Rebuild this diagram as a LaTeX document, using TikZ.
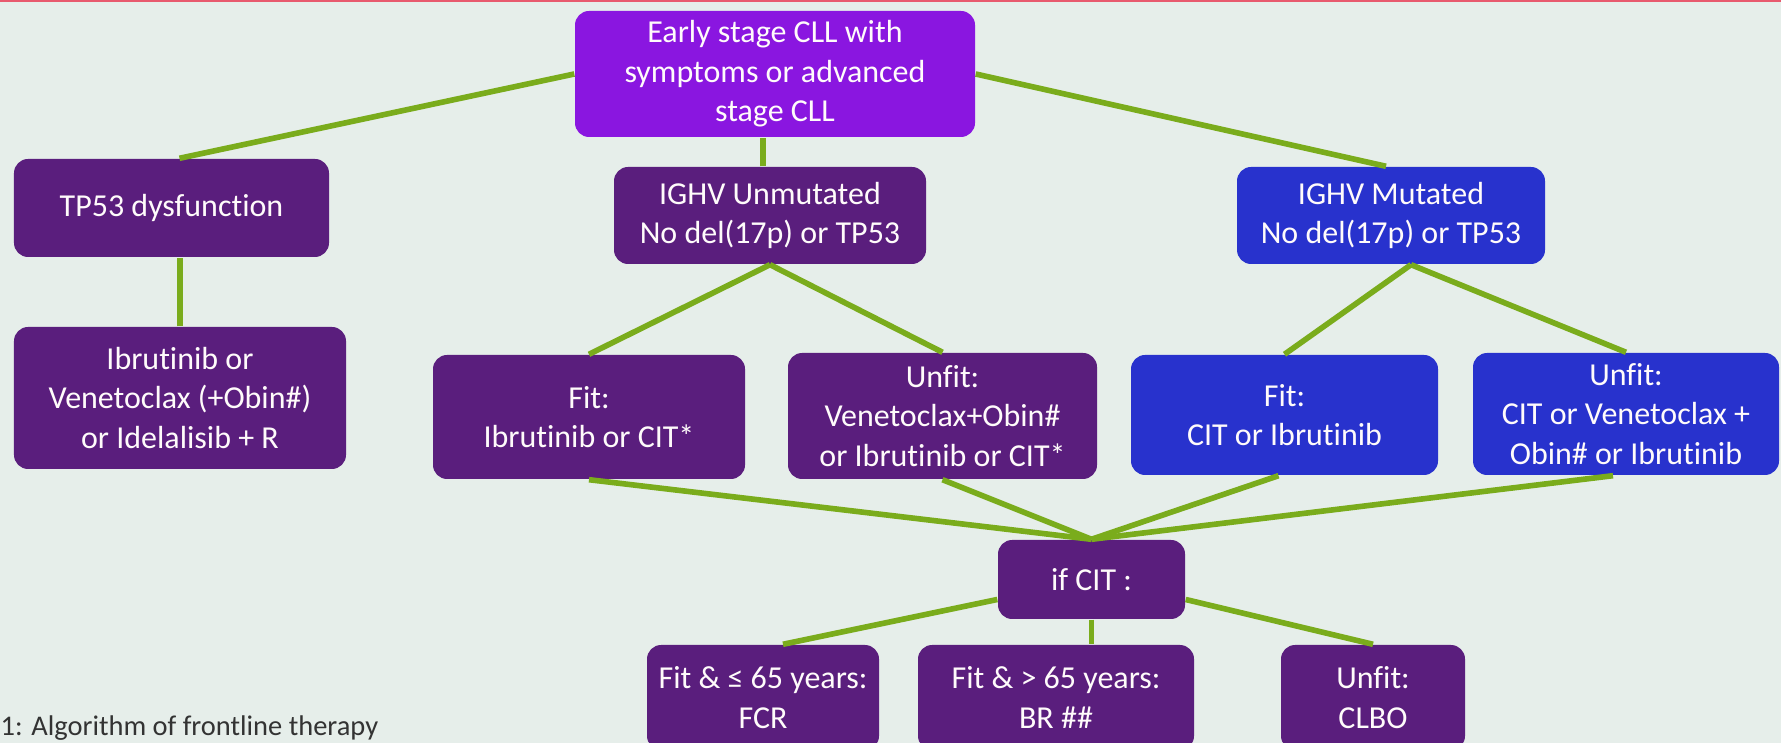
\documentclass[tikz,border=0pt]{standalone}
\usepackage{fontspec}
\setmainfont[Ligatures={CommonOff,ContextualOff}]{Carlito}
\usepackage{xcolor}
\usepackage{tikz}
\usetikzlibrary{positioning,calc}

\definecolor{slidebg}{RGB}{230,238,234}
\definecolor{cllviolet}{RGB}{138,22,224}
\definecolor{cllplum}{RGB}{90,30,125}
\definecolor{cllblue}{RGB}{40,50,205}
\definecolor{cllgreen}{RGB}{122,172,28}
\definecolor{slidered}{RGB}{232,90,110}

\begin{document}
\begin{tikzpicture}[
  base/.style={rectangle, rounded corners=4pt, align=center, text=white!94!pink, inner sep=0pt, font=\fontsize{9.1}{11.2}\selectfont},
  vbox/.style={base, fill=cllviolet},
  pbox/.style={base, fill=cllplum},
  bbox/.style={base, fill=cllblue},
  link/.style={draw=cllgreen, line width=1.6pt},
  figcaption/.style={font=\fontsize{8.1}{10}\selectfont, text=black!80, inner sep=0pt}
]

% slide background
\useasboundingbox (0,0) rectangle (17.81,-7.43);
\fill[slidebg] (0,0) rectangle (17.81,-7.43);
\draw[slidered, line width=1.2pt] (0,0) -- (17.81,0);

% first level
\node[vbox, minimum width=4.0cm, minimum height=1.26cm] (root) at (7.75,-0.74) {Early stage CLL with\\symptoms or advanced\\stage CLL};

% second level
\node[pbox, minimum width=3.15cm, minimum height=0.98cm] (tp) at (1.715,-2.08) {TP53 dysfunction};
\node[pbox, minimum width=3.12cm, minimum height=0.97cm] (unmut) at (7.70,-2.155) {IGHV Unmutated\\No del(17p) or TP53};
\node[bbox, minimum width=3.08cm, minimum height=0.97cm] (mut) at (13.91,-2.155) {IGHV Mutated\\No del(17p) or TP53};

% therapy boxes
\node[pbox, minimum width=3.32cm, minimum height=1.42cm] (tpt) at (1.80,-3.98) {Ibrutinib or\\Venetoclax (+Obin\#)\\or Idelalisib + R};
\node[pbox, minimum width=3.12cm, minimum height=1.24cm] (fitu) at (5.89,-4.17) {Fit:\\Ibrutinib or CIT*};
\node[pbox, minimum width=3.09cm, minimum height=1.26cm] (unfitu) at (9.425,-4.16) {Unfit:\\Venetoclax+Obin\#\\or Ibrutinib or CIT*};
\node[bbox, minimum width=3.07cm, minimum height=1.20cm] (fitm) at (12.845,-4.15) {Fit:\\CIT or Ibrutinib};
\node[bbox, minimum width=3.06cm, minimum height=1.22cm] (unfitm) at (16.26,-4.14) {Unfit:\\CIT or Venetoclax +\\Obin\# or Ibrutinib};

% CIT choice
\node[pbox, minimum width=1.87cm, minimum height=0.79cm] (cit) at (10.915,-5.795) {if CIT :};
\node[pbox, minimum width=2.32cm, minimum height=1.05cm] (fcr) at (7.63,-6.975) {Fit \& ≤ 65 years:\\FCR};
\node[pbox, minimum width=2.76cm, minimum height=1.05cm] (br) at (10.56,-6.975) {Fit \& > 65 years:\\BR \#\#};
\node[pbox, minimum width=1.84cm, minimum height=1.05cm] (clbo) at (13.73,-6.975) {Unfit:\\CLBO};

\node[figcaption, anchor=base west] (capt) at (0.0,-7.36) {1: Algorithm of frontline therapy};

% connectors
\draw[link] (root.west) -- ([xshift=0.08cm]tp.north);
\draw[link] (root.east) -- ([xshift=-0.05cm]mut.north);
\draw[link] ([xshift=-0.07cm]unmut.north) -- ([xshift=-0.07cm]unmut.north |- root.south);
\draw[link] (tpt.north) -- (tpt.north |- tp.south);

\draw[link] (unmut.south) -- (fitu.north);
\draw[link] (unmut.south) -- (unfitu.north);
\draw[link] ([xshift=0.2cm]mut.south) -- (fitm.north);
\draw[link] ([xshift=0.2cm]mut.south) -- (unfitm.north);

\draw[link] (fitu.south) -- (cit.north);
\draw[link] (unfitu.south) -- (cit.north);
\draw[link] ([xshift=-0.06cm]fitm.south) -- (cit.north);
\draw[link] ([xshift=-0.13cm]unfitm.south) -- (cit.north);

\draw[link] ([yshift=-0.2cm]cit.west) -- ([xshift=0.2cm]fcr.north);
\draw[link] (cit.south) -- (cit.south |- br.north);
\draw[link] ([yshift=-0.2cm]cit.east) -- (clbo.north);

\end{tikzpicture}
\end{document}
